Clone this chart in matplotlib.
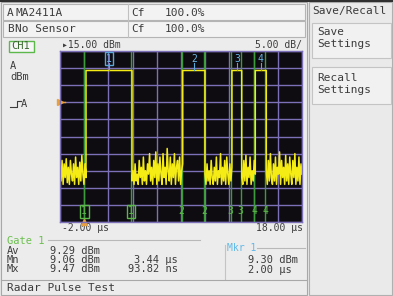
import numpy as np
import matplotlib.pyplot as plt
from matplotlib.patches import Rectangle

# display scale: time (us) across, level (dBm) up
t_start, t_stop = -2.0, 18.0
ref_level, db_per_div = 15.0, 5.0
bottom_level = ref_level - 10 * db_per_div

# pulse edges (us) and flat top level (dBm)
pulse_on = [0.15, 8.14, 12.21, 14.14]
pulse_off = [3.95, 9.98, 13.02, 15.05]
pulse_level = [9.3, 9.3, 9.3, 9.3]

# noise floor between pulses (dBm)
noise_a = [-19, -23, -17, -24, -18, -22, -16.5, -23.5, -19, -24, -17, -21, -23,
           -18, -24, -16, -22, -19, -24, -17.5, -23, -15.5, -21, -24, -18, -22]
noise_b = [-23, -20, -24, -18, -23, -21, -24, -17, -22, -19, -24, -16, -23, -20,
           -24, -18, -21, -15, -23, -19, -24, -17, -22, -14.5, -24, -18, -23, -16,
           -21, -24, -15, -22, -19, -24, -13.5, -20, -23, -16, -24, -18, -22, -15,
           -24, -19, -17, -23, -16, -24, -20, -18]
noise_c = [-21, -24, -18, -23, -20, -24, -17, -22, -24, -19, -23, -16, -24, -20,
           -22, -15, -24, -19, -23, -17, -24, -16, -21, -24, -18, -23, -19]
noise_d = [-22, -24, -17, -23, -15.5, -24, -19, -22, -16, -24, -20, -23, -17, -21]
noise_e = [-20, -24, -17, -23, -15, -22, -24, -18, -23, -16, -24, -19, -21, -14.5,
           -24, -17, -22, -19, -24, -15.5, -23, -18, -24, -16, -21, -24, -17, -22,
           -15, -24, -19, -23, -16, -24, -18, -21]

# gate marker pairs (us)
markers = [(0.0, 3.87), (8.06, 9.93), (12.1, 12.93), (14.03, 14.94)]
marker_names = ['1', '2', '3', '4']
trig_level = 0.0

# build the trace: noise, then pulse, then noise ...
gaps = [(t_start, pulse_on[0])]
gaps += [(pulse_off[i], pulse_on[i + 1]) for i in range(len(pulse_on) - 1)]
gaps += [(pulse_off[-1], t_stop)]
noise = [noise_a, noise_b, noise_c, noise_d, noise_e]
tt, yy = [], []
for i, (g, n) in enumerate(zip(gaps, noise)):
    tt += list(np.linspace(g[0], g[1], len(n)))
    yy += n
    if i < len(pulse_on):
        tt += [pulse_on[i], pulse_off[i]]
        yy += [pulse_level[i], pulse_level[i]]

W, H = 393, 296
fig = plt.figure(figsize=(W / 100, H / 100), dpi=100)
fig.patch.set_facecolor('#e6e6e6')

# pixel-coordinate layer for the instrument frame
bg = fig.add_axes([0, 0, 1, 1])
bg.set_xlim(0, W)
bg.set_ylim(H, 0)
bg.axis('off')

mono = 'DejaVu Sans Mono'
txtc = '#3c3c3c'


def txt(x, y, s, fs=7.5, c=txtc, **kw):
    bg.text(x, y, s, fontsize=fs, family=mono, color=c, va='center', **kw)


def box(x0, y0, x1, y1, fc='#f3f3f3', ec='#b4b4b4', lw=0.8):
    bg.add_patch(Rectangle((x0, y0), x1 - x0, y1 - y0, fc=fc, ec=ec, lw=lw))


# outer frame
bg.plot([0, W], [0.8, 0.8], color='#303030', lw=1.5)
box(1, 2, 307, 295, fc='#ececec', ec='#a8a8a8')
box(309, 2, 392, 295, fc='#eaeaea', ec='#b0b0b0')

# header rows
box(3, 4, 305, 20)
box(3, 21, 305, 37)
bg.plot([128, 128], [4, 37], color='#c0c0c0', lw=0.8)
txt(7, 12.5, 'A', fs=8)
txt(15, 12.5, 'MA2411A', fs=8)
txt(131, 12.5, 'Cf', fs=8)
txt(165, 12.5, '100.0%', fs=8)
txt(7, 29, 'B', fs=8)
txt(15, 29, 'No Sensor', fs=8)
txt(131, 29, 'Cf', fs=8)
txt(165, 29, '100.0%', fs=8)

# softkey panel
txt(312, 11, 'Save/Recall', fs=8)
box(312, 23, 391, 58, fc='#f1f1f1', ec='#c4c4c4')
txt(317, 32, 'Save', fs=8)
txt(317, 44, 'Settings', fs=8)
box(312, 67, 391, 104, fc='#f1f1f1', ec='#c4c4c4')
txt(317, 78, 'Recall', fs=8)
txt(317, 90, 'Settings', fs=8)

# channel side labels
bg.add_patch(Rectangle((9, 40.5), 25, 11, fc='#f6f6f6', ec='#5cb84a', lw=1.0))
txt(11, 46, 'CH1', fs=7.5, c='#3a6a30')
txt(10, 66, 'A', fs=7.5)
txt(10, 77, 'dBm', fs=7.5)
bg.plot([10, 17, 17, 21], [107, 107, 101, 101], color=txtc, lw=0.8)
txt(21, 104, 'A', fs=7.5)

# scale labels
txt(62, 45, '\u25b815.00 dBm', fs=7)
txt(302, 45, '5.00 dB/', fs=7, ha='right')
txt(62, 228, '-2.00 \u00b5s', fs=7)
txt(303, 228, '18.00 \u00b5s', fs=7, ha='right')

# gate readout
bg.plot([48, 200], [240, 240], color='#b8b8b8', lw=0.8)
txt(7, 241, 'Gate 1', fs=7.5, c='#6cc050')
rows = [('Av', '9.29 dBm', ''), ('Mn', '9.06 dBm', '3.44 \u00b5s'),
        ('Mx', '9.47 dBm', '93.82 ns')]
for k, (name, lev, tm) in enumerate(rows):
    y = 251 + 9 * k
    txt(7, y, name)
    txt(50, y, lev)
    if tm:
        txt(178, y, tm, ha='right')

# marker readout
bg.plot([225, 225], [245, 279], color='#c4c4c4', lw=0.8)
bg.plot([257, 305], [248, 248], color='#b8b8b8', lw=0.8)
txt(227, 248, 'Mkr 1', fs=7, c='#60b8e8')
txt(248, 260, '9.30 dBm')
txt(248, 270, '2.00 \u00b5s')

# status bar
bg.plot([1, 307], [280, 280], color='#a8a8a8', lw=0.8)
txt(7, 288, 'Radar Pulse Test', fs=8)

# trace display
ax = fig.add_axes([60 / W, 1 - 222 / H, 242 / W, 171 / H])
ax.set_facecolor('#0e0c10')
ax.set_xlim(t_start, t_stop)
ax.set_ylim(bottom_level, ref_level)
ax.set_xticks(np.arange(t_start, t_stop + 0.1, 2.0))
ax.set_yticks(np.arange(bottom_level, ref_level + 0.1, db_per_div))
ax.grid(True, color='#7c70b8', lw=1.0)
ax.tick_params(length=0, labelbottom=False, labelleft=False)
for s in ax.spines.values():
    s.set_color('#7c70b8')
    s.set_linewidth(1.0)

for (m0, m1) in markers:
    ax.axvline(m0, color='#3c9c3c', lw=1.0)
    ax.axvline(m1, color='#3c9c3c', lw=1.0)

ax.plot(tt, yy, color='#f4ec14', lw=1.1)

# marker tags at top and bottom
for i, ((m0, m1), name) in enumerate(zip(markers, marker_names)):
    mid = (pulse_on[i] + pulse_off[i]) / 2
    ax.plot([mid, mid], [11.5, pulse_level[i]], color='#58a8d8', lw=0.8)
    bb = dict(boxstyle='square,pad=0.15', fc='none', ec='#58a8d8', lw=1.0) if i == 0 else None
    ax.text(mid, 12.8, name, fontsize=7, family=mono, color='#68b8e8',
            ha='center', va='center', bbox=bb)
    for m in (m0, m1):
        bb = dict(boxstyle='square,pad=0.15', fc='none', ec='#5cb84a', lw=1.0) if i == 0 else None
        ax.text(m, -31.8, name, fontsize=7, family=mono, color='#5cb84a',
                ha='center', va='center', bbox=bb)

# trigger level and trigger position
ax.plot([t_start, t_start + 0.4], [trig_level, trig_level], color='#e8a040', lw=1.0, clip_on=False)
ax.plot([t_start], [trig_level], marker='>', ms=4, color='#e8a040', clip_on=False)
ax.plot([0.0], [bottom_level], marker='^', ms=4, color='#e8a040', clip_on=False)

fig.savefig('out.png', dpi=100, facecolor=fig.get_facecolor())
